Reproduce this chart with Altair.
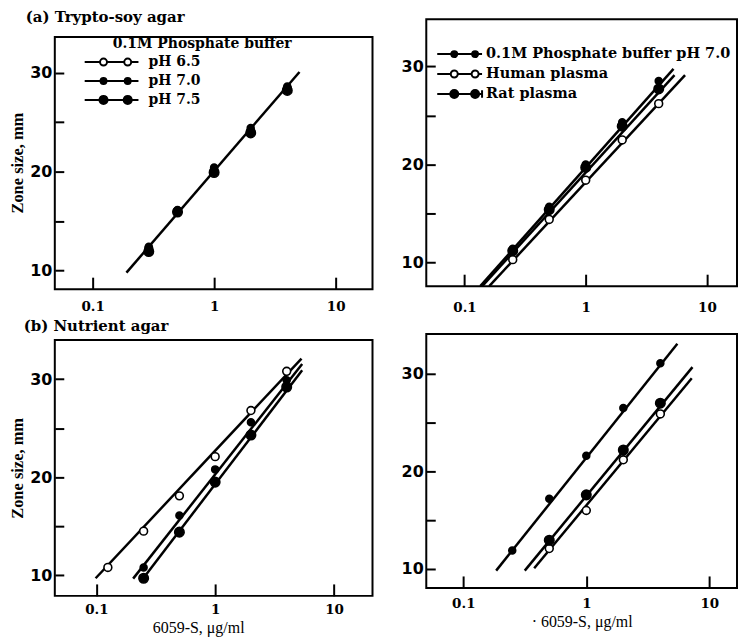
import altair as alt
import pandas as pd

# ---------------- data ----------------
# (a) Trypto-soy agar, left: 0.1M phosphate buffer at three pH values
a1_series = ["pH 6.5", "pH 7.0", "pH 7.5"]
a1_dose = [0.29, 0.5, 1, 2, 4]
a1_ph65 = [12.2, 16.0, 20.1, 24.1, 28.4]
a1_ph70 = [12.4, 16.1, 20.4, 24.4, 28.6]
a1_ph75 = [11.9, 15.9, 19.9, 23.9, 28.2]
a1_fit_dose = [0.19, 5.04]
a1_fit_zone = [9.77, 30.07]
a1_frame_dose = [0.0489, 20.1]   # axis frame of this panel
a1_frame_zone = [8.1, 33.6]

# (a) right: buffer vs plasma
a2_series = ["0.1M Phosphate buffer pH 7.0", "Human plasma", "Rat plasma"]
a2_dose = [0.25, 0.5, 1, 2, 4]
a2_buffer = [11.4, 15.7, 20.0, 24.3, 28.5]
a2_human = [10.3, 14.4, 18.4, 22.5, 26.2]
a2_rat = [11.2, 15.4, 19.7, 23.9, 27.7]
a2_fit_buffer_dose = [0.135, 5.3]
a2_fit_buffer_zone = [7.6, 29.75]
a2_fit_human_dose = [0.16, 6.6]
a2_fit_human_zone = [7.6, 29.1]
a2_fit_rat_dose = [0.14, 5.4]
a2_fit_rat_zone = [7.6, 29.1]

# (b) Nutrient agar, left
b1_dose_ph65 = [0.125, 0.25, 0.5, 1, 2, 4]
b1_ph65 = [10.8, 14.5, 18.1, 22.1, 26.8, 30.8]
b1_dose = [0.25, 0.5, 1, 2, 4]
b1_ph70 = [10.8, 16.1, 20.8, 25.6, 29.9]
b1_ph75 = [9.7, 14.4, 19.5, 24.3, 29.2]
b1_fit_ph65_dose = [0.0986, 5.33]
b1_fit_ph65_zone = [9.7, 32.1]
b1_fit_ph70_dose = [0.204, 5.4]
b1_fit_ph70_zone = [9.66, 31.55]
b1_fit_ph75_dose = [0.235, 5.4]
b1_fit_ph75_zone = [9.32, 30.9]

# (b) right
b2_dose_buffer = [0.25, 0.5, 1, 2, 4]
b2_buffer = [11.9, 17.2, 21.6, 26.5, 31.1]
b2_dose_plasma = [0.5, 1, 2, 4]
b2_human = [12.1, 16.0, 21.2, 25.9]
b2_rat = [12.95, 17.6, 22.2, 27.0]
b2_fit_buffer_dose = [0.185, 5.5]
b2_fit_buffer_zone = [9.83, 33.1]
b2_fit_human_dose = [0.377, 7.2]
b2_fit_human_zone = [10.07, 29.56]
b2_fit_rat_dose = [0.316, 7.3]
b2_fit_rat_zone = [9.83, 30.7]

x_ticks = [0.1, 1, 10]
y_ticks = [10, 15, 20, 25, 30]


def long_df(pairs):
    rows = []
    for name, xs, ys in pairs:
        for xv, yv in zip(xs, ys):
            rows.append({"series": name, "dose": xv, "zone": yv})
    return pd.DataFrame(rows)


def make_path(m1, m2, r, bar=False):
    k = 0.5523 * r
    segs = [f"M-1,0L{m1 - r:.3f},0", f"M{m1 + r:.3f},0L{m2 - r:.3f},0", f"M{m2 + r:.3f},0L1,0"]
    for c in (m1, m2):
        segs.append(
            f"M{c + r:.3f},0"
            f"C{c + r:.3f},{k:.3f} {c + k:.3f},{r:.3f} {c:.3f},{r:.3f}"
            f"C{c - k:.3f},{r:.3f} {c - r:.3f},{k:.3f} {c - r:.3f},0"
            f"C{c - r:.3f},{-k:.3f} {c - k:.3f},{-r:.3f} {c:.3f},{-r:.3f}"
            f"C{c + k:.3f},{-r:.3f} {c + r:.3f},{-k:.3f} {c + r:.3f},0Z"
        )
    if bar:
        segs.append("M1,-0.17L1,0.17")
    return " ".join(segs)


def x_axis(title, label_pad, title_x=None):
    kw = dict(
        values=x_ticks, format="~g", grid=False, domain=False, ticks=True,
        tickSize=12, offset=-12, tickWidth=2, tickColor="black",
        labelPadding=label_pad, labelFont="DejaVu Serif", labelFontWeight="bold",
        labelFontSize=13.5, labelColor="black", labelFlush=False,
        title=title, titleFont="Liberation Serif", titleFontSize=16,
        titleFontWeight="normal", titleColor="black", titlePadding=3,
    )
    if title_x is not None:
        kw["titleX"] = title_x
    return alt.Axis(**kw)


def y_axis(title, title_y=None):
    kw = dict(
        values=y_ticks, labelExpr="datum.value % 10 === 0 ? datum.label : ''",
        grid=False, domain=False, tickSize=9, offset=-9, tickWidth=2,
        tickColor="black", labelPadding=3, labelFont="DejaVu Sans",
        labelFontWeight="bold", labelFontSize=16, labelColor="black",
        title=title, titleFont="Liberation Serif", titleFontSize=16.5,
        titleFontWeight="bold", titleColor="black", titlePadding=4,
    )
    if title_y is not None:
        kw["titleY"] = title_y
    return alt.Axis(**kw)


def panel(key, points, fits, names, open_name, large_name, paths, xdom, ydom, w, h,
          xax, yax, legend, title=None, frame=None):
    x = alt.X("dose:Q", scale=alt.Scale(type="log", domain=xdom, nice=False), axis=xax)
    y = alt.Y("zone:Q", scale=alt.Scale(domain=ydom, nice=False, zero=False), axis=yax)
    lines = alt.Chart(fits).mark_line(color="black", strokeWidth=2.5, clip=True).encode(
        x=x, y=y, detail="series:N")
    fill = alt.when(alt.datum.series == open_name).then(alt.value("white")).otherwise(alt.value("black"))
    size = (alt.when(alt.datum.series == open_name).then(alt.value(62))
            .when(alt.datum.series == large_name).then(alt.value(90))
            .otherwise(alt.value(48)))
    pts = alt.Chart(points).mark_point(
        shape="circle", filled=True, stroke="black", strokeWidth=1.6, opacity=1, clip=True
    ).encode(x=x, y=y, fill=fill, size=size)
    layers = [lines, pts]
    if frame is not None:
        fx, fy = frame
        box = alt.Chart(pd.DataFrame({"x0": [fx[0]], "x1": [fx[1]], "y0": [fy[0]], "y1": [fy[1]]})).mark_rect(
            fillOpacity=0, stroke="black", strokeWidth=2
        ).encode(x=alt.X("x0:Q"), x2="x1:Q", y=alt.Y("y0:Q"), y2="y1:Q")
        layers.insert(0, box)
    if legend is not None:
        fills = ["white" if n == open_name else "black" for n in names]
        fld = f"{key}:N"
        leg = alt.Chart(pd.DataFrame({key: names})).transform_filter("false").mark_point(
            filled=True, stroke="black", strokeWidth=2, opacity=1
        ).encode(
            shape=alt.Shape(fld, scale=alt.Scale(domain=names, range=paths), legend=legend),
            fill=alt.Fill(fld, scale=alt.Scale(domain=names, range=fills), legend=legend),
            stroke=alt.Stroke(fld, scale=alt.Scale(domain=names, range=["black"] * len(names)),
                              legend=legend),
        )
        layers.append(leg)
    ch = alt.layer(*layers).properties(width=w, height=h)
    if frame is not None:
        ch = ch.properties(view=alt.ViewBackground(stroke="transparent"))
    if title is not None:
        ch = ch.properties(title=title)
    return ch


def legend(**kw):
    base = dict(
        orient="none", padding=0, clipHeight=15, labelFont="DejaVu Serif",
        labelFontWeight="bold", labelColor="black", symbolStrokeColor="black",
        symbolStrokeWidth=2, symbolOpacity=1, labelLimit=500, titleLimit=500,
    )
    base.update(kw)
    return alt.Legend(**base)


# ---------- panel (a) left ----------
tl_points = long_df([(a1_series[0], a1_dose, a1_ph65), (a1_series[1], a1_dose, a1_ph70),
                     (a1_series[2], a1_dose, a1_ph75)])
tl_fits = long_df([("fit", a1_fit_dose, a1_fit_zone)])
tl_paths = [make_path(-0.3, 0.6, 0.13), make_path(-0.3, 0.6, 0.11), make_path(-0.3, 0.6, 0.15)]
tl_legend = legend(
    title="\u200b" + "\u00a0" * 6 + "0.1M Phosphate buffer", titleFont="DejaVu Serif",
    titleFontSize=14, titleFontWeight="bold", titleColor="black", titlePadding=3.5,
    labelFontSize=14, symbolSize=2916, labelOffset=9, rowPadding=4,
    legendX=29, legendY=18,
)
tl = panel("s_tl", tl_points, tl_fits, a1_series, "pH 6.5", "pH 7.5", tl_paths,
           [a1_frame_dose[0], a1_frame_dose[1]], [a1_frame_zone[0], 35.4], 319, 271,
           x_axis(None, 10), y_axis("Zone size, mm", title_y=144), tl_legend,
           alt.TitleParams("(a) Trypto-soy agar", anchor="start", font="DejaVu Serif",
                           fontSize=15, fontWeight="bold", color="black", offset=-6, dx=16),
           frame=(a1_frame_dose, a1_frame_zone))

# ---------- panel (a) right ----------
tr_points = long_df([(a2_series[1], a2_dose, a2_human), (a2_series[0], a2_dose, a2_buffer),
                     (a2_series[2], a2_dose, a2_rat)])
tr_fits = long_df([("buffer", a2_fit_buffer_dose, a2_fit_buffer_zone),
                   ("human", a2_fit_human_dose, a2_fit_human_zone),
                   ("rat", a2_fit_rat_dose, a2_fit_rat_zone)])
tr_paths = [make_path(-0.24, 0.69, 0.133), make_path(-0.24, 0.69, 0.156),
            make_path(-0.24, 0.69, 0.178, bar=True)]
tr_legend = legend(
    title=None, labelFontSize=14.5, symbolSize=2025, labelOffset=3, rowPadding=4,
    legendX=10, legendY=27.5,
)
tr = panel("s_tr", tr_points, tr_fits, a2_series, "Human plasma", "Rat plasma", tr_paths,
           [0.0484, 17.7], [7.6, 34.8], 312, 268,
           x_axis(None, 14), y_axis(None), tr_legend)

# ---------- panel (b) left ----------
bl_points = long_df([(a1_series[0], b1_dose_ph65, b1_ph65), (a1_series[1], b1_dose, b1_ph70),
                     (a1_series[2], b1_dose, b1_ph75)])
bl_fits = long_df([("6.5", b1_fit_ph65_dose, b1_fit_ph65_zone),
                   ("7.0", b1_fit_ph70_dose, b1_fit_ph70_zone),
                   ("7.5", b1_fit_ph75_dose, b1_fit_ph75_zone)])
bl = panel("s_bl", bl_points, bl_fits, a1_series, "pH 6.5", "pH 7.5", tl_paths,
           [0.0447, 21.1], [7.9, 34.0], 319, 257,
           x_axis("6059-S, \u03bcg/ml", 7, title_x=144), y_axis("Zone size, mm"), None,
           alt.TitleParams("(b) Nutrient agar", anchor="start", font="DejaVu Serif",
                           fontSize=15, fontWeight="bold", color="black", offset=5.5, dx=14))

# ---------- panel (b) right ----------
br_points = long_df([(a2_series[1], b2_dose_plasma, b2_human), (a2_series[0], b2_dose_buffer, b2_buffer),
                     (a2_series[2], b2_dose_plasma, b2_rat)])
br_fits = long_df([("buffer", b2_fit_buffer_dose, b2_fit_buffer_zone),
                   ("human", b2_fit_human_dose, b2_fit_human_zone),
                   ("rat", b2_fit_rat_dose, b2_fit_rat_zone)])
br = panel("s_br", br_points, br_fits, a2_series, "Human plasma", "Rat plasma", tr_paths,
           [0.05, 16.8], [8.06, 34.1], 312, 255,
           x_axis("\u00b7 6059-S, \u03bcg/ml", 9), y_axis(None), None)

indep = dict(shape="independent", fill="independent", stroke="independent")
col_left = alt.vconcat(tl, bl, spacing=4).resolve_scale(**indep).resolve_legend(**indep)
col_right = alt.vconcat(tr, br, spacing=18).resolve_scale(**indep).resolve_legend(**indep)
chart = (
    alt.hconcat(col_left, col_right, spacing=25)
    .resolve_scale(**indep)
    .resolve_legend(**indep)
    .properties(padding=0)
    .configure_view(stroke="black", strokeWidth=2)
)

chart.save("out.html", embed_options={"renderer": "svg", "actions": False})
